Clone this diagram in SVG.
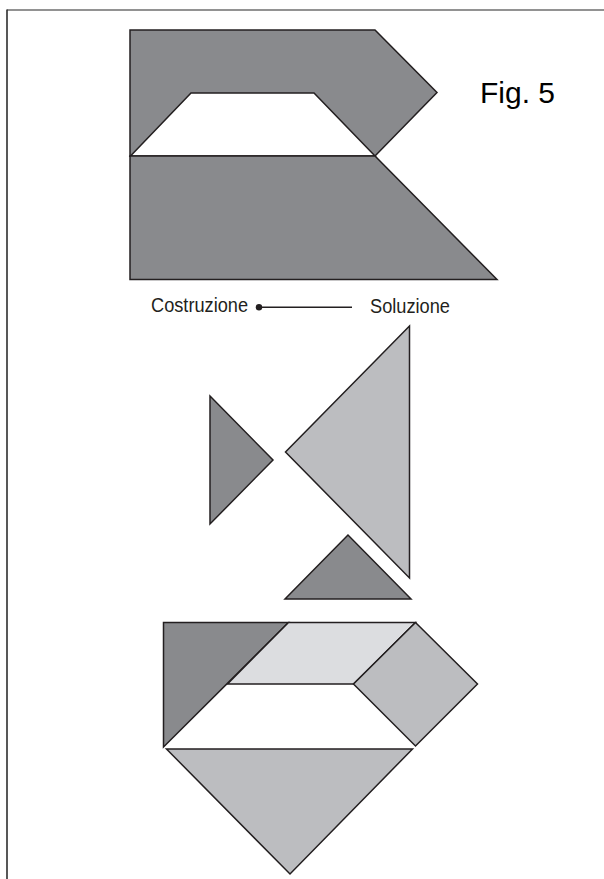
<svg xmlns="http://www.w3.org/2000/svg" width="604" height="879" viewBox="0 0 604 879">
<style>
.s{stroke:#231f20;stroke-width:1.5;stroke-linejoin:miter}
.dark{fill:#898a8d}
.mid{fill:#bcbdc0}
.light{fill:#dcdde0}
.white{fill:#ffffff}
.lbl{font-family:"Liberation Sans Narrow","Liberation Sans",Arial,sans-serif;fill:#231f20}
.fig{font-family:"Liberation Sans",Arial,sans-serif;font-size:30px;fill:#000}
</style>
<rect width="604" height="879" fill="#ffffff"/>
<g id="frame">
<line x1="7" y1="10" x2="604" y2="10" stroke="#6e6e6e" stroke-width="1.6"/>
<line x1="7" y1="9.5" x2="7" y2="879" stroke="#2e2e2e" stroke-width="1.6"/>
</g>
<g id="fig-label"><text class="fig" x="480" y="102.5">Fig. 5</text></g>
<g id="top-upper">
<polygon class="s dark" points="130,30 375,30 437,92.5 375,156 130,156"/>
<polygon class="s white" points="130.5,156 191,93 314,93 375,156"/>
</g>
<g id="top-lower">
<polygon class="s dark" points="130,156 375,156 497,279.5 130,279.5"/>
</g>
<g id="connectors">
<line x1="259" y1="307.3" x2="352" y2="307.3" stroke="#231f20" stroke-width="1.4"/>
<circle cx="259" cy="307.3" r="3.2" fill="#231f20"/>
</g>
<g id="label-costruzione"><text class="lbl" x="151" y="311.7" font-size="20.5" textLength="97" lengthAdjust="spacingAndGlyphs">Costruzione</text></g>
<g id="label-soluzione"><text class="lbl" x="370" y="313.3" font-size="20" textLength="80" lengthAdjust="spacingAndGlyphs">Soluzione</text></g>
<g id="tri-left"><polygon class="s dark" points="210,396 273,460 210,524"/></g>
<g id="tri-big"><polygon class="s mid" points="409.5,326 285.5,452 409.5,578"/></g>
<g id="tri-small"><polygon class="s dark" points="348,535 285,599 411,599"/></g>
<g id="sol-dark-tri"><polygon class="s dark" points="163.5,622.5 288.5,622.5 163.5,747"/></g>
<g id="sol-parallelogram"><polygon class="s light" points="288.5,622.5 415.5,622.5 353.5,684 227.5,684"/></g>
<g id="sol-square"><polygon class="s mid" points="415.5,622.5 477.5,684 415.5,746 353.5,684"/></g>
<g id="sol-big-tri"><polygon class="s mid" points="166.5,749 412.5,749 290,874"/></g>
</svg>
